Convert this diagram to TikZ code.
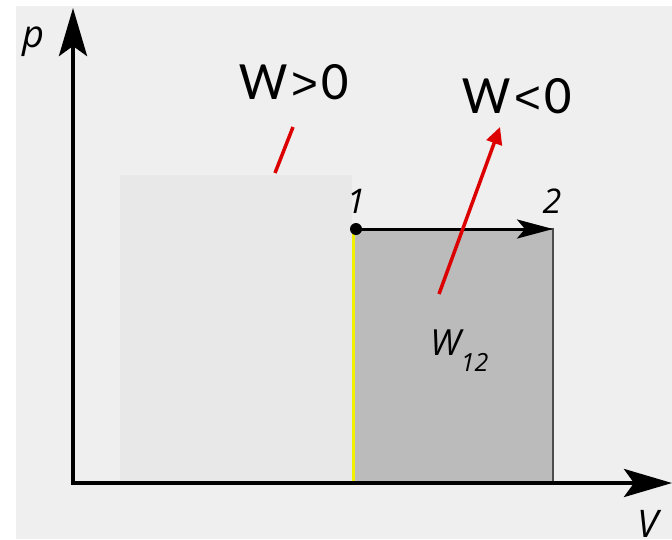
\documentclass[tikz,border=0pt]{standalone}
\usepackage{fontspec}
\setmainfont{Carlito}
\newfontfamily\lblfont{Open Sans}
\newfontfamily\relfont{Liberation Sans}
\usetikzlibrary{arrows.meta}
\definecolor{bgc}{HTML}{EFEFEF}
\definecolor{lightc}{HTML}{E8E8E8}
\definecolor{workc}{HTML}{BBBBBB}
\definecolor{redc}{HTML}{DD0000}
\definecolor{yelc}{HTML}{F0F000}
\tikzset{
  axis/.style={line width=4.5pt, -{Stealth[length=48pt,width=28pt,inset=10pt]}},
  redline/.style={redc, line width=3.5pt},
  big/.style={font=\fontsize{54}{60}\selectfont, inner sep=0pt},
  lbl/.style={font=\lblfont\itshape\fontsize{38}{40}\selectfont, inner sep=0pt},
  num/.style={font=\lblfont\itshape\fontsize{34}{36}\selectfont, inner sep=0pt},
}
\begin{document}
\begin{tikzpicture}[x=1pt,y=-1pt]
\useasboundingbox (0,0) rectangle (672,539);
\fill[white] (0,0) rectangle (672,539);
\fill[bgc] (16,6) rectangle (672,539);
% light area
\fill[lightc] (120,175) rectangle (352,482);
% work area
\fill[workc, draw=black!70, line width=2pt] (354,229) rectangle (553,482);
\draw[yelc, line width=3pt] (353,229) -- (353,482);
% axes
\coordinate (O) at (73,482);
\coordinate (ptop) at (73,8);
\coordinate (vend) at (672,483);
\draw[axis] (O) -- (ptop);
\draw[axis] (71,483) -- (vend);
\node[lbl, anchor=base] (p) at (33,47) {p};
\node[lbl, anchor=base] (V) at (648,537) {V};
% process 1 -> 2
\coordinate (s1) at (356,229);
\coordinate (s2) at (553,229);
\draw[line width=3pt, -{Stealth[length=36pt,width=19pt,inset=8pt]}] (s1) -- (s2);
\fill (s1) circle (6);
\node[num, anchor=base] (n1) at (356,213) {1};
\node[num, anchor=base] (n2) at (552,213) {2};
\node[anchor=base west, inner sep=0pt] (w12) at (430,355) {\lblfont\itshape\fontsize{36}{38}\selectfont W\raisebox{-16pt}{\fontsize{25}{27}\selectfont 12}};
% labels
\node[big, anchor=base] (wpos) at (294,99) {W\hspace{4pt}{\relfont\fontsize{46}{50}\selectfont >}\hspace{3pt}0};
\node[big, anchor=base] (wneg) at (517,113) {W\hspace{4pt}{\relfont\fontsize{46}{50}\selectfont <}\hspace{3pt}0};
\coordinate (r1a) at (275,173);
\coordinate (r1b) at (293,127);
\draw[redline] (r1a) -- (r1b);
\coordinate (r2a) at (439,294);
\coordinate (r2b) at (500,127);
\draw[redline, -{Triangle[length=17pt,width=16pt]}] (r2a) -- (r2b);
\end{tikzpicture}
\end{document}
